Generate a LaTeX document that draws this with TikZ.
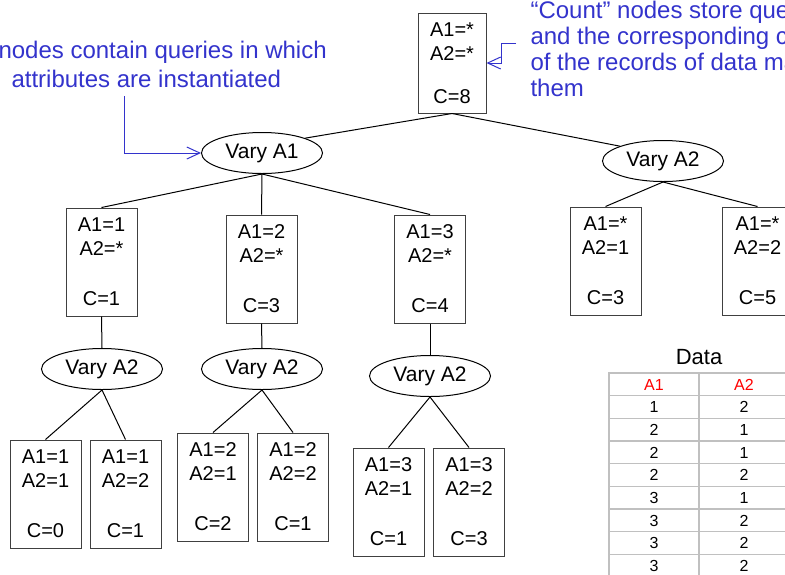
\documentclass[tikz,border=0pt]{standalone}
\usepackage{fontspec}
\setmainfont{Liberation Sans}
\usetikzlibrary{shapes.geometric,arrows.meta}

\definecolor{noteblue}{RGB}{51,51,204}
\definecolor{gridgray}{RGB}{192,192,192}

\begin{document}
\begin{tikzpicture}[x=1pt,y=-1pt,
        query/.style={draw=black!75,line width=1pt,minimum width=71pt,minimum height=108pt,
            inner sep=0pt,align=center,font=\fontsize{20}{24}\selectfont},
        vary/.style={draw,ellipse,line width=1pt,minimum width=121pt,minimum height=41pt,
            inner sep=0pt,font=\fontsize{21}{24}\selectfont},
        link/.style={line width=1pt},
        note/.style={text=noteblue,align=left},
        pointer/.style={draw=noteblue,line width=1pt,-{Straight Barb[length=13pt,width=12pt]}},
        cell/.style={font=\fontsize{16}{18}\selectfont}]
    \useasboundingbox (0,0) rectangle (785,574);

    % root and the two "vary" nodes under it
    \node[query,minimum width=68pt,minimum height=100pt] (root) at (452,63) {A1=*\\A2=*\\[19pt]C=8};
    \node[vary] (varyA) at (262,153) {Vary A1};
    \node[vary] (varyB) at (663,161) {Vary A2};
    \draw[link] (root.south) -- (varyA.north east);
    \draw[link] (root.south) -- (varyB.north west);

    % A1 instantiated
    \node[query] (a1) at (101.5,262) {A1=1\\A2=*\\[26pt]C=1};
    \node[query] (a2) at (261.5,269) {A1=2\\A2=*\\[26pt]C=3};
    \node[query] (a3) at (430,269) {A1=3\\A2=*\\[26pt]C=4};
    \draw[link] (varyA.south) -- (a1.north);
    \draw[link] (varyA.south) -- (a2.north);
    \draw[link] (varyA.south) -- (a3.north);

    % A2 instantiated
    \node[query] (b1) at (605.5,261) {A1=*\\A2=1\\[26pt]C=3};
    \node[query] (b2) at (757.5,261) {A1=*\\A2=2\\[26pt]C=5};
    \draw[link] (varyB.south) -- (b1.north);
    \draw[link] (varyB.south) -- (b2.north);

    % second level
    \node[vary] (vary1) at (102,369) {Vary A2};
    \node[vary] (vary2) at (262,369) {Vary A2};
    \node[vary] (vary3) at (430,376) {Vary A2};
    \draw[link] (a1.south) -- (vary1.north);
    \draw[link] (a2.south) -- (vary2.north);
    \draw[link] (a3.south) -- (vary3.north);

    \node[query] (c11) at (45.5,494) {A1=1\\A2=1\\[26pt]C=0};
    \node[query] (c12) at (125.5,494) {A1=1\\A2=2\\[26pt]C=1};
    \node[query] (c21) at (213,487) {A1=2\\A2=1\\[26pt]C=2};
    \node[query] (c22) at (293,487) {A1=2\\A2=2\\[26pt]C=1};
    \node[query] (c31) at (388.5,502) {A1=3\\A2=1\\[26pt]C=1};
    \node[query] (c32) at (469,502) {A1=3\\A2=2\\[26pt]C=3};
    \draw[link] (vary1.south) -- (c11.north);
    \draw[link] (vary1.south) -- (c12.north);
    \draw[link] (vary2.south) -- (c21.north);
    \draw[link] (vary2.south) -- (c22.north);
    \draw[link] (vary3.south) -- (c31.north);
    \draw[link] (vary3.south) -- (c32.north);

    % the two notes (base = last line)
    \node[note,anchor=base west,font=\fontsize{24}{29}\selectfont] (varynote) at (-5,87)
        {nodes contain queries in which\\\hspace*{13pt}attributes are instantiated};
    \coordinate (varyhook) at (124,96);
    \draw[pointer] (varyhook) |- (varyA.west);

    \node[note,anchor=base west,font=\fontsize{24}{26}\selectfont] (countnote) at (527,96)
        {“Count” nodes store que\\and the corresponding co\\of the records of data ma\\them};
    \coordinate (counthook) at (516,43);
    \draw[pointer] (counthook) -- ++(-15,0) |- (root.east);

    % data table
    \node[font=\fontsize{22}{24}\selectfont] (datatitle) at (699,357) {Data};
    \foreach \r in {0,...,9}
        \draw[gridgray,line width=1.5pt] (608,373+22.67*\r) -- (800,373+22.67*\r);
    \foreach \c in {609,699,789}
        \draw[gridgray,line width=1.5pt] (\c,372) -- (\c,590);
    \node[cell,text=red] (head1) at (654,384.5) {A1};
    \node[cell,text=red] (head2) at (744,384.5) {A2};
    \foreach \a/\b [count=\i] in {1/2,2/1,2/1,2/2,3/1,3/2,3/2,3/2} {
        \node[cell] (rowa\i) at (654,384.5+22.67*\i) {\a};
        \node[cell] (rowb\i) at (744,384.5+22.67*\i) {\b};
    }
\end{tikzpicture}
\end{document}
